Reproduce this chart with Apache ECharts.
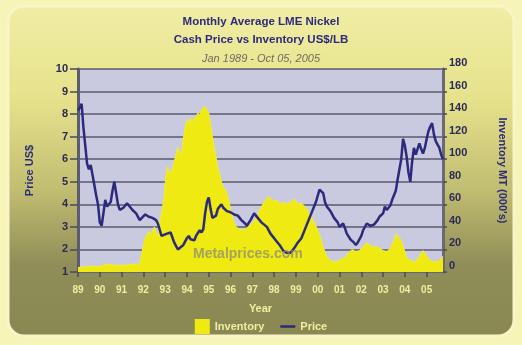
<!DOCTYPE html>
<html>
<head>
<meta charset="utf-8">
<script src="https://cdn.jsdelivr.net/npm/echarts@6/dist/echarts.min.js"></script>
<style>
  html, body { margin: 0; padding: 0; background: #f6f4b6; }
  #chart { width: 522px; height: 345px; }
</style>
</head>
<body>
<div id="chart"></div>
<script>
// Monthly LME nickel cash price (US$/lb) and warehouse inventory (000's tonnes),
// indexed by months elapsed since January 1989.
const startYear = 1989;
const yearTicks = [1989, 1990, 1991, 1992, 1993, 1994, 1995, 1996, 1997, 1998, 1999, 2000, 2001, 2002, 2003, 2004, 2005];
const yearTickLabels = ['89', '90', '91', '92', '93', '94', '95', '96', '97', '98', '99', '00', '01', '02', '03', '04', '05'];

const priceMonths = [0, 2, 3, 5, 6, 7, 8, 10, 11, 12, 13, 14, 15, 16, 17, 18, 19, 20, 21, 22, 23, 25, 27, 28, 30, 32, 34, 35, 37, 39, 41, 43, 44, 46, 47, 49, 51, 53, 55, 56, 58, 60, 61, 62, 64, 65, 67, 68, 69, 70, 71, 72, 73, 74, 75, 76, 77, 79, 80, 82, 84, 86, 88, 90, 92, 93, 95, 97, 98, 100, 101, 104, 106, 109, 111, 113, 115, 117, 119, 121, 123, 125, 127, 129, 131, 133, 134, 135, 136, 137, 138, 139, 141, 143, 144, 146, 147, 148, 150, 152, 153, 154, 156, 157, 158, 159, 161, 163, 165, 166, 168, 169, 170, 172, 173, 175, 176, 178, 179, 180, 181, 182, 183, 184, 185, 186, 188, 189, 190, 191, 192, 193, 194, 195, 196, 197, 198, 199, 200, 201];
const priceValues = [8.15, 8.45, 7.4, 5.8, 5.55, 5.75, 5.3, 4.4, 4.0, 3.2, 3.05, 3.6, 4.2, 3.9, 3.85, 4.1, 4.6, 5.0, 4.5, 4.0, 3.75, 3.85, 4.05, 3.95, 3.75, 3.6, 3.3, 3.35, 3.55, 3.45, 3.4, 3.3, 3.15, 2.6, 2.55, 2.7, 2.75, 2.3, 2.0, 1.95, 2.2, 2.5, 2.6, 2.45, 2.4, 2.6, 2.85, 2.75, 2.9, 3.6, 4.1, 4.3, 3.8, 3.4, 3.35, 3.5, 3.8, 4.0, 3.85, 3.7, 3.65, 3.55, 3.5, 3.3, 3.15, 3.05, 3.3, 3.6, 3.55, 3.3, 3.2, 3.0, 2.7, 2.4, 2.2, 1.95, 1.85, 1.85, 2.05, 2.3, 2.5, 2.9, 3.3, 3.7, 4.1, 4.65, 4.6, 4.5, 4.1, 3.9, 3.95, 3.7, 3.4, 3.2, 3.0, 3.15, 2.95, 2.7, 2.45, 2.3, 2.2, 2.3, 2.6, 2.85, 2.9, 3.15, 3.05, 3.1, 3.3, 3.45, 3.6, 3.9, 3.75, 3.95, 4.2, 4.6, 5.1, 6.0, 6.9, 6.6, 6.1, 5.4, 5.0, 5.9, 6.5, 6.2, 6.7, 6.45, 6.25, 6.5, 6.9, 7.25, 7.45, 7.6, 7.1, 6.8, 6.65, 6.5, 6.2, 6.0];

const inventoryMonths = [0, 6, 12, 16, 20, 26, 30, 34, 35, 36, 37, 39, 40, 42, 44, 45, 46, 47, 48, 49, 50, 51, 52, 53, 54, 55, 56, 57, 58, 59, 60, 61, 62, 63, 64, 65, 66, 67, 68, 69, 70, 71, 72, 73, 74, 75, 76, 77, 78, 79, 80, 81, 82, 83, 84, 85, 86, 87, 89, 91, 93, 95, 97, 99, 101, 103, 105, 107, 109, 111, 113, 115, 117, 119, 121, 123, 125, 127, 129, 131, 132, 133, 134, 135, 136, 137, 139, 142, 145, 147, 149, 151, 153, 155, 157, 159, 160, 162, 164, 166, 168, 170, 172, 174, 175, 176, 177, 178, 180, 181, 183, 186, 188, 190, 192, 194, 197, 199, 201];
const inventoryValues = [4, 5, 5, 7, 6, 6, 7, 7, 8, 24, 30, 36, 33, 40, 31, 45, 52, 62, 78, 93, 90, 87, 92, 98, 104, 111, 106, 104, 118, 128, 135, 132, 136, 134, 135, 138, 141, 139, 144, 143, 147, 146, 141, 131, 120, 110, 102, 92, 87, 80, 75, 73, 70, 63, 56, 49, 44, 40, 38, 37, 39, 42, 45, 51, 58, 63, 67, 63, 64, 60, 62, 60, 62, 65, 60, 61, 58, 53, 47, 41, 37, 33, 28, 22, 18, 14, 10, 9, 11, 13, 17, 20, 18, 19, 22, 26, 27, 22, 23, 21, 19, 18, 21, 28, 34, 32, 31, 28, 18, 13, 10, 9, 14, 19, 14, 10, 9, 10, 14];

const lastMonth = 201; // October 2005

const toYear = m => startYear + m / 12;
const priceSeries = priceMonths.map((m, i) => [toYear(m), priceValues[i]]);
const inventorySeries = inventoryMonths.map((m, i) => [toYear(m), inventoryValues[i]]);

const navy = '#2c2a7c';
const paleText = '#f0eea0';
const font = 'Liberation Sans, Arial, sans-serif';

const chart = echarts.init(document.getElementById('chart'), null, { renderer: 'canvas' });

chart.setOption({
  animation: false,
  backgroundColor: '#f6f4b6',
  graphic: [
    {
      type: 'rect',
      z: -10,
      shape: { x: 8, y: 6, width: 506, height: 330, r: 16 },
      style: {
        fill: {
          type: 'linear', x: 0, y: 0, x2: 0, y2: 1,
          colorStops: [
            { offset: 0, color: '#f0eea4' },
            { offset: 0.28, color: '#e6e28c' },
            { offset: 0.55, color: '#c2be72' },
            { offset: 0.78, color: '#908e58' },
            { offset: 1, color: '#8a8852' }
          ]
        },
        stroke: '#f8f6c8',
        lineWidth: 3
      }
    },
    {
      type: 'text',
      z: 5,
      left: 193,
      top: 247,
      style: {
        text: 'Metalprices.com',
        font: 'bold 14px ' + font,
        fill: 'rgba(140,138,120,0.75)'
      }
    }
  ],
  title: [
    {
      text: 'Monthly Average LME Nickel\nCash Price vs Inventory US$/LB',
      left: 'center',
      top: 8,
      textStyle: { color: navy, fontFamily: font, fontWeight: 'bold', fontSize: 11.5, lineHeight: 18 }
    },
    {
      text: 'Jan 1989 - Oct 05, 2005',
      left: 'center',
      top: 48,
      textStyle: { color: '#6e6c5c', fontFamily: font, fontStyle: 'italic', fontWeight: 'normal', fontSize: 11 }
    }
  ],
  legend: {
    bottom: 6,
    left: 'center',
    itemGap: 16,
    itemWidth: 15,
    itemHeight: 15,
    textStyle: { color: paleText, fontFamily: font, fontWeight: 'bold', fontSize: 11 },
    data: [
      { name: 'Inventory', icon: 'rect' },
      { name: 'Price', icon: 'path://M0,0 L18,0 L18,3 L0,3 Z' }
    ]
  },
  grid: { left: 78, right: 79, top: 69, bottom: 73, show: true, backgroundColor: '#c9c9df', borderWidth: 0 },
  xAxis: {
    type: 'value',
    min: startYear,
    max: toYear(lastMonth),
    name: 'Year',
    nameLocation: 'middle',
    nameGap: 31,
    nameTextStyle: { color: paleText, fontFamily: font, fontWeight: 'bold', fontSize: 11 },
    axisLine: { show: true, onZero: false, lineStyle: { color: '#66667a', width: 2 } },
    axisTick: { show: true, customValues: yearTicks, length: 5, lineStyle: { color: '#4a4a5a', width: 1.5 } },
    axisLabel: {
      customValues: yearTicks,
      color: paleText,
      fontFamily: font,
      fontWeight: 'bold',
      fontSize: 10,
      margin: 13,
      formatter: v => yearTickLabels[yearTicks.indexOf(Math.round(v))] || ''
    },
    splitLine: { show: false }
  },
  yAxis: [
    {
      type: 'value',
      min: 1,
      max: 10,
      interval: 1,
      position: 'left',
      name: 'Price US$',
      nameLocation: 'middle',
      nameGap: 43,
      nameTextStyle: { color: navy, fontFamily: font, fontWeight: 'bold', fontSize: 11 },
      axisLine: { show: true, lineStyle: { color: '#5c5c70', width: 3 } },
      axisTick: { show: true, length: 8, lineStyle: { color: '#4a4a5e', width: 1.5 } },
      axisLabel: { color: '#2a2a58', fontFamily: font, fontWeight: 'bold', fontSize: 11, margin: 10 },
      splitLine: { show: true, lineStyle: { color: '#5a5a6e', width: 1.5 } }
    },
    {
      type: 'value',
      min: 0,
      max: 180,
      interval: 20,
      position: 'right',
      name: "Inventory MT (000's)",
      nameLocation: 'middle',
      nameRotate: -90,
      nameGap: 54,
      nameTextStyle: { color: navy, fontFamily: font, fontWeight: 'bold', fontSize: 11 },
      axisLine: { show: true, lineStyle: { color: '#6a6a70', width: 3 } },
      axisTick: { show: true, length: 4, lineStyle: { color: '#4a4a5e', width: 1.5 } },
      axisLabel: { color: '#2a2a58', fontFamily: font, fontWeight: 'bold', fontSize: 11, margin: 6, verticalAlign: 'bottom', lineHeight: 12 },
      splitLine: { show: false }
    }
  ],
  series: [
    {
      name: 'Inventory',
      type: 'line',
      yAxisIndex: 1,
      data: inventorySeries,
      symbol: 'none',
      color: '#eeea12',
      lineStyle: { width: 1, color: '#f2ee30' },
      areaStyle: { color: '#eeea12', opacity: 1 },
      z: 2
    },
    {
      name: 'Price',
      type: 'line',
      yAxisIndex: 0,
      data: priceSeries,
      symbol: 'none',
      color: navy,
      lineStyle: { width: 2.5, color: navy },
      z: 3
    }
  ]
});
</script>
</body>
</html>
